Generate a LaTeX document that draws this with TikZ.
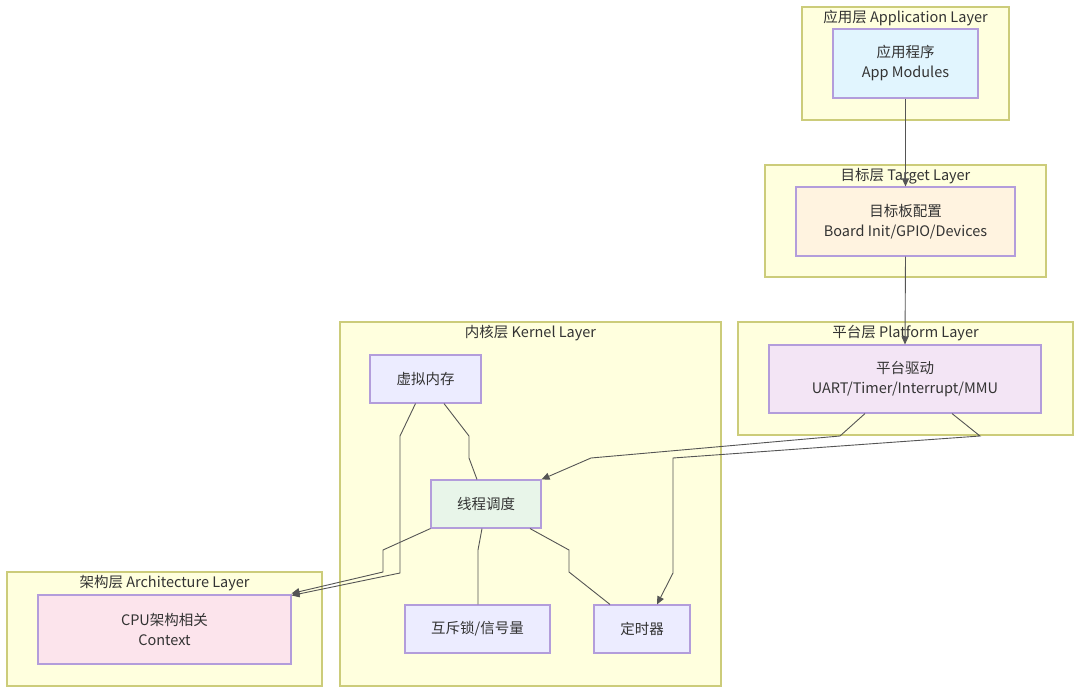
\documentclass[tikz,border=0pt]{standalone}
\usepackage{fontspec}
\setmainfont{Noto Sans CJK SC}
\usetikzlibrary{arrows.meta}
\definecolor{clfill}{HTML}{FFFFDE}
\definecolor{cldraw}{HTML}{CCCC7A}
\definecolor{ndraw}{HTML}{B39DDB}
\definecolor{txt}{HTML}{333333}
\definecolor{lnk}{HTML}{555555}
\definecolor{fapp}{HTML}{E1F5FE}
\definecolor{ftgt}{HTML}{FFF3E0}
\definecolor{fplat}{HTML}{F3E5F5}
\definecolor{fsch}{HTML}{E8F5E9}
\definecolor{fcpu}{HTML}{FCE4EC}
\definecolor{fdef}{HTML}{ECECFF}
\begin{document}
\begin{tikzpicture}[x=1pt,y=-1pt,
  cluster/.style={draw=cldraw,fill=clfill,line width=1.2pt,inner sep=0pt},
  ctitle/.style={text=txt,font=\fontsize{14.5}{17}\selectfont,inner sep=0pt},
  box/.style={draw=ndraw,line width=1.1pt,inner sep=0pt,text=txt,align=center,
    font=\fontsize{14.5}{20}\selectfont},
  edge/.style={draw=lnk,line width=0.9pt},
  arr/.style={edge,-{Triangle[length=8pt,width=7pt]}}]
\useasboundingbox (0,0) rectangle (1080,693);
\fill[white] (0,0) rectangle (1080,693);
% clusters
\node[cluster,minimum width=207pt,minimum height=113pt] (capp) at (905.5,63.5) {};
\node[cluster,minimum width=281pt,minimum height=112pt] (ctgt) at (905.5,221) {};
\node[cluster,minimum width=335pt,minimum height=113pt] (cplat) at (905.5,378.5) {};
\node[cluster,minimum width=381pt,minimum height=364pt] (ckern) at (530.5,504) {};
\node[cluster,minimum width=315pt,minimum height=114pt] (carch) at (164.5,629) {};
\node[ctitle] (tapp) at (905.5,18) {应用层 Application Layer};
\node[ctitle] (ttgt) at (905.5,176) {目标层 Target Layer};
\node[ctitle] (tplat) at (905.5,333.5) {平台层 Platform Layer};
\node[ctitle] (tkern) at (530.5,333.5) {内核层 Kernel Layer};
\node[ctitle] (tarch) at (164.5,583.5) {架构层 Architecture Layer};
% nodes
\node[box,fill=fapp,minimum width=145pt,minimum height=69pt] (app) at (905.5,63.5) {应用程序\\App Modules};
\node[box,fill=ftgt,minimum width=219pt,minimum height=69pt] (tgt) at (905.5,221.5) {目标板配置\\Board Init/GPIO/Devices};
\node[box,fill=fplat,minimum width=272pt,minimum height=68pt] (plat) at (905,379) {平台驱动\\UART/Timer/Interrupt/MMU};
\node[box,fill=fdef,minimum width=111pt,minimum height=48pt] (vm) at (425.5,379) {虚拟内存};
\node[box,fill=fsch,minimum width=110pt,minimum height=48pt] (sch) at (486,504) {线程调度};
\node[box,fill=fdef,minimum width=145pt,minimum height=48pt] (mtx) at (477.5,629) {互斥锁/信号量};
\node[box,fill=fdef,minimum width=96pt,minimum height=48pt] (tmr) at (642,629) {定时器};
\node[box,fill=fcpu,minimum width=253pt,minimum height=69pt] (cpu) at (164.5,629.5) {CPU架构相关\\Context};
% edges
\draw[arr] (app.south) -- (tgt.north);
\draw[arr] (tgt.south) -- (plat.north);
\draw[arr] ([xshift=-40pt]plat.south) -- (840,436) -- (591,458) -- (sch.north east);
\draw[arr] ([xshift=47pt]plat.south) -- (980,436) -- (673,458) -- (673,573) -- ([xshift=15pt]tmr.north);
\draw[arr] ([xshift=-10pt]vm.south) -- (400,436) -- (400,573) -- ([yshift=-1pt]cpu.north east);
\draw[arr] (sch.south west) -- (383,550) -- (383,572) -- ([yshift=1pt]cpu.north east);
\draw[edge] ([xshift=18.5pt]vm.south) -- (469,436) -- (469,458) -- ([xshift=-9pt]sch.north);
\draw[edge] ([xshift=-4pt]sch.south) -- (478,550) -- ([xshift=0.5pt]mtx.north);
\draw[edge] ([xshift=44pt]sch.south) -- (569,550) -- (569,572) -- ([xshift=-32pt]tmr.north);
\end{tikzpicture}
\end{document}
